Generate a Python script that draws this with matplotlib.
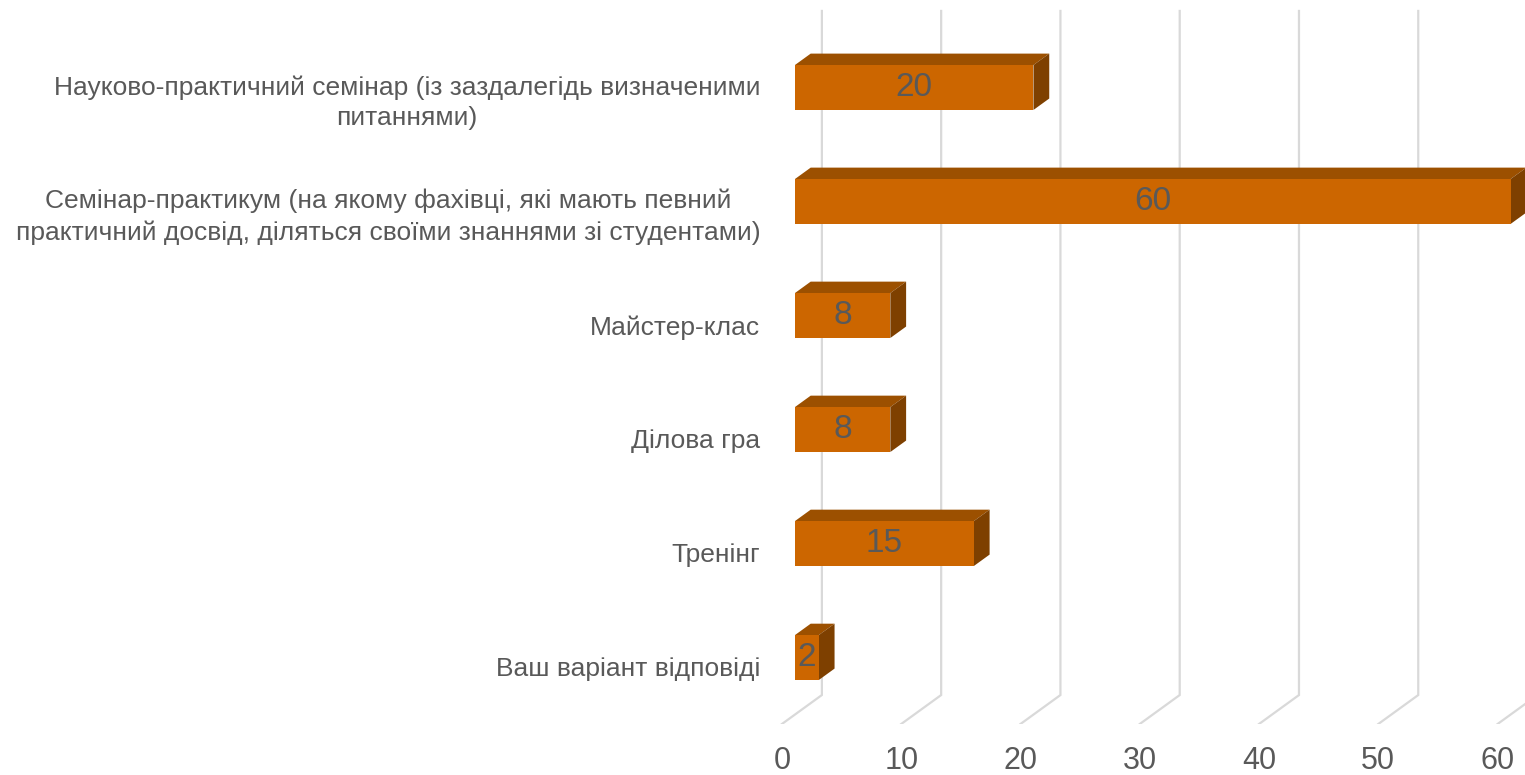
import matplotlib
matplotlib.use("Agg")
from matplotlib import pyplot as plt
from matplotlib import font_manager
from matplotlib.patches import Polygon

# data, bottom to top as drawn
categories = [
    "Ваш варіант відповіді",
    "Тренінг",
    "Ділова гра",
    "Майстер-клас",
    "Семінар-практикум (на якому фахівці, які мають певний\nпрактичний досвід, діляться своїми знаннями зі студентами)",
    "Науково-практичний семінар (із заздалегідь визначеними\nпитаннями)",
]
values = [2, 15, 8, 8, 60, 20]
ticks = [0, 10, 20, 30, 40, 50, 60]

front_col = "#CC6600"
top_col = "#9C5000"
side_col = "#7E4000"
grid_col = "#D9D9D9"
text_col = "#595959"

names = {f.name for f in font_manager.fontManager.ttflist}
plt.rcParams["font.family"] = "Liberation Sans" if "Liberation Sans" in names else "DejaVu Sans"

# fake 3d: depth 0 = front, 1 = back
DX = 3.35   # value units per depth
DY = 0.254  # category units per depth
d0, d1 = 0.325, 0.72
half_h = 0.197


def proj(x, y, d):
    return (x + DX * d, y + DY * d)


fig = plt.figure(figsize=(15.25, 7.75), dpi=100)
ax = fig.add_axes([770 / 1525, 51 / 775, 755 / 1525, 724 / 775])
ax.set_xlim(-1, 62.3)
ax.set_ylim(-0.5, 5.85)
for s in ax.spines.values():
    s.set_visible(False)

# floor + back wall grid lines
for t in ticks:
    fx, fy = proj(t, -0.5, 0)
    bx, by = proj(t, -0.5, 1)
    ax.plot([fx, bx, bx], [fy, by, 5.5 + DY], color=grid_col, lw=1.6,
            solid_joinstyle="miter", zorder=1)

for i, v in enumerate(values):
    yb, yt = i - half_h, i + half_h
    front = [proj(0, yb, d0), proj(v, yb, d0), proj(v, yt, d0), proj(0, yt, d0)]
    top = [proj(0, yt, d0), proj(v, yt, d0), proj(v, yt, d1), proj(0, yt, d1)]
    side = [proj(v, yb, d0), proj(v, yb, d1), proj(v, yt, d1), proj(v, yt, d0)]
    ax.add_patch(Polygon(top, closed=True, fc=top_col, ec="none", zorder=3))
    ax.add_patch(Polygon(side, closed=True, fc=side_col, ec="none", zorder=3))
    ax.add_patch(Polygon(front, closed=True, fc=front_col, ec="none", zorder=4))
    cx, cy = proj(v / 2, i, d0)
    ax.text(cx, cy, str(v), ha="center", va="center", fontsize=24,
            color=text_col, zorder=5)

ax.set_xticks(ticks)
ax.set_xticklabels([str(t) for t in ticks], fontsize=22, color=text_col)
ax.set_yticks(range(len(categories)))
ax.set_yticklabels(categories, fontsize=19, color=text_col, linespacing=1.35)
ax.tick_params(axis="x", length=0, pad=16)
ax.tick_params(axis="y", length=0, pad=7)
for lab in ax.get_yticklabels():
    lab.set_multialignment("center")

fig.savefig("out.png", dpi=100, facecolor="white")
